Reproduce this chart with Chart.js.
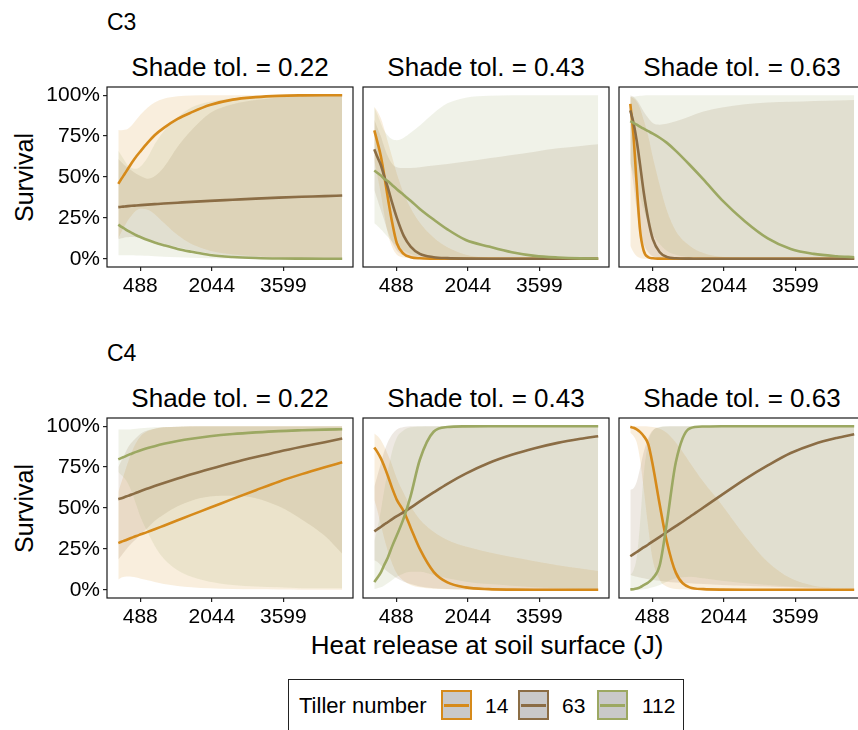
<!DOCTYPE html>
<html>
<head>
<meta charset="utf-8">
<script src="https://cdn.jsdelivr.net/npm/chart.js@4.4.1/dist/chart.umd.min.js"></script>
<style>
  html, body { margin: 0; padding: 0; width: 858px; height: 730px; overflow: hidden; background: #fff; }
  body { position: relative; font-family: 'Liberation Sans', Arial, sans-serif; color: #000; }
  .t { position: absolute; white-space: nowrap; line-height: 1; }
  canvas { position: absolute; }
</style>
</head>
<body>
<script>
// x grid (heat release, J) shared by every curve
var heat = [10, 80, 150, 220, 300, 400, 500, 650, 800, 1000, 1300, 1600, 2000, 2500, 3000, 3500, 4000, 4500, 4880];
var xTicks = [488, 2044, 3599];
var xTickLabels = ['488', '2044', '3599'];
var yTicks = [0, 25, 50, 75, 100];
var yTickLabels = ['0%', '25%', '50%', '75%', '100%'];
var tillers = ['14', '63', '112'];
var pathways = ['C3', 'C4'];
var shadeTol = ['0.22', '0.43', '0.63'];

// C3, shade tol 0.22
var c3a_fit14 = [45.8, 49, 52, 55, 58.5, 62.5, 66, 71, 75.5, 80, 85.5, 89.5, 94, 97.3, 98.8, 99.6, 99.9, 100, 100];
var c3a_lo14  = [12.4, 16.5, 20, 23.5, 26.5, 29.5, 30.6, 30, 27.3, 22, 14.5, 9, 5, 2.7, 1.6, 0.8, 0.4, 0.2, 0.1];
var c3a_hi14  = [78.7, 78.5, 78.8, 79.5, 81.5, 85, 88.4, 92.5, 95.5, 97.8, 99.3, 99.8, 100, 100, 100, 100, 100, 100, 100];
var c3a_fit63 = [31.6, 31.8, 32, 32.2, 32.4, 32.6, 32.8, 33.1, 33.4, 33.8, 34.3, 34.8, 35.4, 36.1, 36.8, 37.4, 37.9, 38.3, 38.7];
var c3a_lo63  = [12, 12.5, 13, 13.2, 13.3, 13.2, 13, 12, 10.8, 9.2, 7, 5.2, 3.3, 1.8, 1, 0.5, 0.3, 0.2, 0.1];
var c3a_hi63  = [61, 59, 57, 55.5, 54, 52, 50.5, 49, 50.5, 56, 68.5, 78.5, 89, 94.5, 97, 98.6, 99.5, 99.8, 100];
var c3a_fit112 = [20.9, 19.5, 18.3, 17.1, 15.9, 14.4, 13.2, 11.5, 10, 8.3, 6, 4.3, 2.3, 1.1, 0.5, 0.2, 0.1, 0.05, 0.03];
var c3a_lo112  = [2.2, 2.2, 2.2, 2.2, 2.2, 2.1, 2, 1.8, 1.6, 1.3, 1, 0.7, 0.4, 0.2, 0.1, 0, 0, 0, 0];
var c3a_hi112  = [66, 63, 60, 57, 55.5, 55, 56.5, 62, 70, 78, 86.5, 92.5, 96, 98.2, 99.3, 99.8, 100, 100, 100];

// C3, shade tol 0.43
var c3b_fit14 = [78.5, 71, 63, 52, 38, 22, 9.5, 3, 1, 0.3, 0.1, 0, 0, 0, 0, 0, 0, 0, 0];
var c3b_lo14  = [60, 50, 40, 28, 16, 7, 2.5, 0.8, 0.3, 0.1, 0, 0, 0, 0, 0, 0, 0, 0, 0];
var c3b_hi14  = [93, 90, 86, 80, 72, 62, 52, 40, 31, 22, 13, 7, 2.5, 0.8, 0.3, 0.1, 0, 0, 0];
var c3b_fit63 = [67, 62, 57.5, 51, 44, 34, 25, 14, 7.5, 3, 1, 0.4, 0.1, 0, 0, 0, 0, 0, 0];
var c3b_lo63  = [42, 36, 30, 24, 17, 10, 5, 2, 0.8, 0.3, 0.1, 0, 0, 0, 0, 0, 0, 0, 0];
var c3b_hi63  = [85, 80, 75, 69, 63, 58, 56, 55.5, 55.5, 56, 57, 58, 59.5, 61.5, 63.5, 65.5, 67.5, 69, 70];
var c3b_fit112 = [54, 52.5, 51, 49, 47.5, 45, 42.5, 39, 35.5, 30.5, 24, 18, 11.5, 7.5, 4, 1.8, 0.8, 0.3, 0.2];
var c3b_lo112  = [21.7, 20, 18, 16, 13.5, 10.5, 8, 5, 3, 1.5, 0.6, 0.3, 0.1, 0, 0, 0, 0, 0, 0];
var c3b_hi112  = [92.7, 88, 83, 78.5, 75.5, 73, 72.5, 74, 77, 81.5, 89, 95, 98.5, 99.6, 100, 100, 100, 100, 100];

// C3, shade tol 0.63
var c3c_fit14 = [94.7, 75, 45, 18, 5, 1, 0.3, 0.1, 0, 0, 0, 0, 0, 0, 0, 0, 0, 0, 0];
var c3c_lo14  = [8, 4, 1.5, 0.5, 0.1, 0, 0, 0, 0, 0, 0, 0, 0, 0, 0, 0, 0, 0, 0];
var c3c_hi14  = [99, 98, 96, 92, 85, 75, 62, 45, 30, 17, 8, 3.5, 1.2, 0.4, 0.1, 0, 0, 0, 0];
var c3c_fit63 = [90.7, 83, 72, 58, 41, 24, 12, 4, 1.2, 0.3, 0.1, 0, 0, 0, 0, 0, 0, 0, 0];
var c3c_lo63  = [60, 45, 30, 18, 9, 4, 1.5, 0.5, 0.2, 0, 0, 0, 0, 0, 0, 0, 0, 0, 0];
var c3c_hi63  = [100, 99, 97, 94, 90, 86, 83, 82, 82.5, 84, 87, 90, 92.5, 94.5, 95.5, 96, 96.5, 96.8, 97];
var c3c_fit112 = [84.2, 83, 82, 80.8, 79.5, 78, 76.5, 74, 71, 66, 57.5, 48.5, 36, 23, 12.5, 6, 3, 1.6, 1];
var c3c_lo112  = [58, 52, 45, 38, 30, 22, 15, 9, 5, 2.5, 1, 0.4, 0.1, 0, 0, 0, 0, 0, 0];
var c3c_hi112  = [99, 99, 99.3, 99.6, 99.8, 100, 100, 100, 100, 100, 100, 100, 100, 100, 100, 100, 100, 100, 100];

// C4, shade tol 0.22
var c4a_fit14 = [28.6, 29.4, 30.1, 30.9, 31.8, 32.9, 33.9, 35.4, 37, 39.2, 42.5, 45.8, 50.1, 55.6, 60.9, 66.1, 70.7, 74.9, 77.9];
var c4a_lo14  = [6.3, 7.5, 8, 8.2, 8, 7.5, 6.8, 5.8, 4.8, 3.6, 2.4, 1.6, 0.9, 0.5, 0.3, 0.2, 0.1, 0.1, 0.1];
var c4a_hi14  = [60, 66, 72, 78, 84, 90, 94, 97, 98.5, 99.3, 99.7, 100, 100, 100, 100, 100, 100, 100, 100];
var c4a_fit63 = [55.4, 56, 56.7, 57.4, 58.2, 59.3, 60.4, 61.9, 63.4, 65.3, 68, 70.6, 73.8, 77.6, 81.1, 84.4, 87.4, 90.2, 92.5];
var c4a_lo63  = [18.5, 21, 23.5, 26, 28.5, 31, 34, 38, 42, 46, 51, 54.5, 57, 57.5, 56, 51, 43, 33, 22];
var c4a_hi63  = [75, 79, 83, 87, 90, 93, 95.5, 97.5, 98.5, 99.3, 99.7, 100, 100, 100, 100, 100, 100, 100, 100];
var c4a_fit112 = [79.7, 80.6, 81.4, 82.3, 83.2, 84.3, 85.3, 86.6, 87.8, 89.2, 90.9, 92.3, 93.8, 95.2, 96.2, 97, 97.5, 97.9, 98.1];
var c4a_lo112  = [72, 70, 68, 65, 60, 52, 44, 35, 27, 19, 12, 8, 5, 3, 2, 1.5, 1, 1, 1];
var c4a_hi112  = [98, 98, 98, 98, 98.2, 98.5, 98.8, 99.1, 99.3, 99.5, 99.7, 99.8, 99.9, 100, 100, 100, 100, 100, 100];

// C4, shade tol 0.43
var c4b_fit14 = [87, 84, 80.5, 76, 70, 62, 55, 48, 38, 25, 11, 4.5, 1.5, 0.4, 0.1, 0, 0, 0, 0];
var c4b_lo14  = [55, 48, 40, 32, 24, 16, 10, 5.5, 3, 1.5, 0.6, 0.3, 0.1, 0, 0, 0, 0, 0, 0];
var c4b_hi14  = [95.5, 94, 91.5, 88, 83, 76, 68, 59, 51, 43, 35.5, 30.5, 26.5, 23, 20, 17.5, 15, 13, 11.5];
var c4b_fit63 = [35.7, 37.1, 38.4, 39.8, 41.3, 43.2, 45, 47.5, 50.2, 54, 59.5, 64.8, 71, 77.5, 82.5, 86.5, 89.8, 92.3, 93.9];
var c4b_lo63  = [18, 17, 15, 13, 11, 9, 7, 5, 3.5, 2, 1, 0.5, 0.2, 0.1, 0, 0, 0, 0, 0];
var c4b_hi63  = [63, 70, 77, 84, 90, 95, 98, 99.5, 100, 100, 100, 100, 100, 100, 100, 100, 100, 100, 100];
var c4b_fit112 = [4.7, 7.5, 10.5, 14.9, 19.5, 26.7, 33.3, 43.8, 57.3, 79.5, 96.6, 99.5, 99.9, 100, 100, 100, 100, 100, 100];
var c4b_lo112  = [0.5, 1, 1.5, 2.5, 4, 6, 8, 10, 11, 11, 9, 7, 5, 3.5, 2.5, 1.5, 1, 0.5, 0.5];
var c4b_hi112  = [30, 38, 48, 60, 72, 85, 93, 97.5, 99.3, 99.8, 100, 100, 100, 100, 100, 100, 100, 100, 100];

// C4, shade tol 0.63
var c4c_fit14 = [99.6, 99, 98, 96.5, 94, 89, 76, 52, 30, 10.5, 1.5, 0.4, 0.1, 0, 0, 0, 0, 0, 0];
var c4c_lo14  = [96, 94, 90, 80, 62, 38, 18, 6, 2, 0.5, 0.1, 0, 0, 0, 0, 0, 0, 0, 0];
var c4c_hi14  = [100, 100, 100, 100, 100, 99.8, 99.5, 98.5, 96, 90, 78, 66, 52, 33, 17, 7, 2.5, 1, 0.5];
var c4c_fit63 = [20.5, 21.8, 23.1, 24.4, 25.9, 27.7, 29.6, 32.4, 35.2, 38.9, 44.5, 50.3, 58, 67.5, 76, 83.6, 89, 92.8, 95.1];
var c4c_lo63  = [9, 8.5, 8, 7.5, 7, 6.5, 6, 5.5, 5, 4.5, 4, 3.5, 3, 2.5, 2, 1.5, 1, 0.8, 0.5];
var c4c_hi63  = [61, 62, 66, 74, 84, 93, 97.5, 99.3, 99.8, 100, 100, 100, 100, 100, 100, 100, 100, 100, 100];
var c4c_fit112 = [0.2, 0.4, 0.8, 1.5, 2.8, 4.5, 7, 15, 40, 78, 98.6, 99.8, 100, 100, 100, 100, 100, 100, 100];
var c4c_lo112  = [0, 0, 0, 0.1, 0.3, 0.8, 1.5, 3, 5, 7, 8, 7, 5.5, 4, 3, 2, 1.5, 1, 0.8];
var c4c_hi112  = [9, 12, 20, 40, 70, 90, 97, 99.5, 100, 100, 100, 100, 100, 100, 100, 100, 100, 100, 100];

var lineCols = ['#D68A1A', '#8B6D45', '#9CA862'];
var bandCols = ['rgba(214,138,26,0.15)', 'rgba(139,109,69,0.15)', 'rgba(156,168,98,0.15)'];

var panels = [
  [ { fit: [c3a_fit14, c3a_fit63, c3a_fit112], lo: [c3a_lo14, c3a_lo63, c3a_lo112], hi: [c3a_hi14, c3a_hi63, c3a_hi112] },
    { fit: [c3b_fit14, c3b_fit63, c3b_fit112], lo: [c3b_lo14, c3b_lo63, c3b_lo112], hi: [c3b_hi14, c3b_hi63, c3b_hi112] },
    { fit: [c3c_fit14, c3c_fit63, c3c_fit112], lo: [c3c_lo14, c3c_lo63, c3c_lo112], hi: [c3c_hi14, c3c_hi63, c3c_hi112] } ],
  [ { fit: [c4a_fit14, c4a_fit63, c4a_fit112], lo: [c4a_lo14, c4a_lo63, c4a_lo112], hi: [c4a_hi14, c4a_hi63, c4a_hi112] },
    { fit: [c4b_fit14, c4b_fit63, c4b_fit112], lo: [c4b_lo14, c4b_lo63, c4b_lo112], hi: [c4b_hi14, c4b_hi63, c4b_hi112] },
    { fit: [c4c_fit14, c4c_fit63, c4c_fit112], lo: [c4c_lo14, c4c_lo63, c4c_lo112], hi: [c4c_hi14, c4c_hi63, c4c_hi112] } ]
];

// layout
var rowTop = [87, 418];
var colLeft = [107, 363, 619];
var boxW = 246, boxH = 180;
var padTop = 16, padSide = 3, axisH = 32, yAxisW = 107;

Chart.defaults.font.family = "'Liberation Sans', Arial, sans-serif";

function addText(txt, left, top, size, css) {
  var d = document.createElement('div');
  d.className = 't';
  d.textContent = txt;
  d.style.left = left + 'px';
  d.style.top = top + 'px';
  d.style.fontSize = size + 'px';
  if (css) Object.assign(d.style, css);
  document.body.appendChild(d);
  return d;
}

function xy(arr) {
  return arr.map(function (v, i) { return { x: heat[i], y: v }; });
}

var frame = {
  id: 'frame',
  afterDraw: function (chart) {
    var a = chart.chartArea, ctx = chart.ctx;
    ctx.save();
    ctx.strokeStyle = '#1a1a1a';
    ctx.lineWidth = 1.2;
    ctx.strokeRect(a.left, a.top, a.right - a.left, a.bottom - a.top);
    ctx.restore();
  }
};

function makePanel(r, c, p) {
  var cv = document.createElement('canvas');
  var left = c === 0 ? 0 : colLeft[c] - padSide;
  var w = (c === 0 ? colLeft[0] : padSide) + boxW + padSide;
  var h = padTop + boxH + axisH;
  cv.width = w; cv.height = h;
  cv.style.left = left + 'px';
  cv.style.top = (rowTop[r] - padTop) + 'px';
  document.body.appendChild(cv);

  var datasets = [];
  // lines on top, tiller 112 drawn last
  for (var k = 2; k >= 0; k--) {
    datasets.push({ data: xy(p.fit[k]), borderColor: lineCols[k], borderWidth: 2.6, pointRadius: 0,
      fill: false, cubicInterpolationMode: 'monotone' });
  }
  // ribbons: 14 drawn first, 112 last
  for (var k = 2; k >= 0; k--) {
    datasets.push({ data: xy(p.lo[k]), borderWidth: 0, pointRadius: 0, fill: false, cubicInterpolationMode: 'monotone' });
    datasets.push({ data: xy(p.hi[k]), borderWidth: 0, pointRadius: 0, fill: '-1', backgroundColor: bandCols[k],
      cubicInterpolationMode: 'monotone' });
  }

  var yScale = {
    display: c === 0,
    min: -5, max: 105,
    afterBuildTicks: function (s) { s.ticks = yTicks.map(function (v) { return { value: v }; }); },
    grid: { drawOnChartArea: false, drawTicks: true, tickLength: 4, color: '#222', lineWidth: 1.2 },
    border: { display: false },
    ticks: { padding: 3, color: '#000', font: { size: 21 }, autoSkip: false,
      callback: function (v, i) { return yTickLabels[i]; } }
  };
  if (c === 0) yScale.afterFit = function (s) { s.width = yAxisW; };

  new Chart(cv, {
    type: 'line',
    data: { datasets: datasets },
    options: {
      responsive: false,
      animation: false,
      events: [],
      layout: { padding: { top: padTop, right: padSide, bottom: 0, left: c === 0 ? 0 : padSide } },
      plugins: { legend: { display: false }, tooltip: { enabled: false } },
      scales: {
        x: {
          type: 'linear', min: -236, max: 5115,
          afterBuildTicks: function (s) { s.ticks = xTicks.map(function (v) { return { value: v }; }); },
          afterFit: function (s) { s.height = axisH; },
          grid: { drawOnChartArea: false, drawTicks: true, tickLength: 4, color: '#222', lineWidth: 1.2 },
          border: { display: false },
          ticks: { padding: 3, color: '#000', font: { size: 21 }, maxRotation: 0, autoSkip: false,
            callback: function (v, i) { return xTickLabels[i]; } }
        },
        y: yScale
      }
    },
    plugins: [frame]
  });
}

for (var r = 0; r < 2; r++) {
  // group label
  addText(pathways[r], 107, rowTop[r] - 76, 23);
  // y title
  addText('Survival', 24 - 100, rowTop[r] + boxH / 2 - 12.5, 25,
    { width: '200px', textAlign: 'center', transform: 'rotate(-90deg)' });
  for (var c = 0; c < 3; c++) {
    addText('Shade tol. = ' + shadeTol[c], colLeft[c], rowTop[r] - 33, 26,
      { width: boxW + 'px', textAlign: 'center' });
    makePanel(r, c, panels[r][c]);
  }
}

// x title
addText('Heat release at soil surface (J)', 487 - 300, 632, 26, { width: '600px', textAlign: 'center' });

// legend
var lg = document.createElement('div');
lg.style.cssText = 'position:absolute;left:288px;top:679px;width:396px;height:70px;border:1px solid #222;box-sizing:border-box;';
document.body.appendChild(lg);
addText('Tiller number', 299, 695, 22);
var keyLeft = [441, 518, 597];
var labLeft = [485, 562, 642];
for (var k = 0; k < 3; k++) {
  var key = document.createElement('div');
  key.style.cssText = 'position:absolute;top:690px;width:31px;height:30px;box-sizing:border-box;background:#C9C9C9;border:2px solid ' + lineCols[k] + ';left:' + keyLeft[k] + 'px;';
  var ln = document.createElement('div');
  ln.style.cssText = 'position:absolute;left:1px;right:1px;top:12px;height:2.6px;background:' + lineCols[k] + ';';
  key.appendChild(ln);
  document.body.appendChild(key);
  addText(tillers[k], labLeft[k], 695, 21);
}
</script>
</body>
</html>
